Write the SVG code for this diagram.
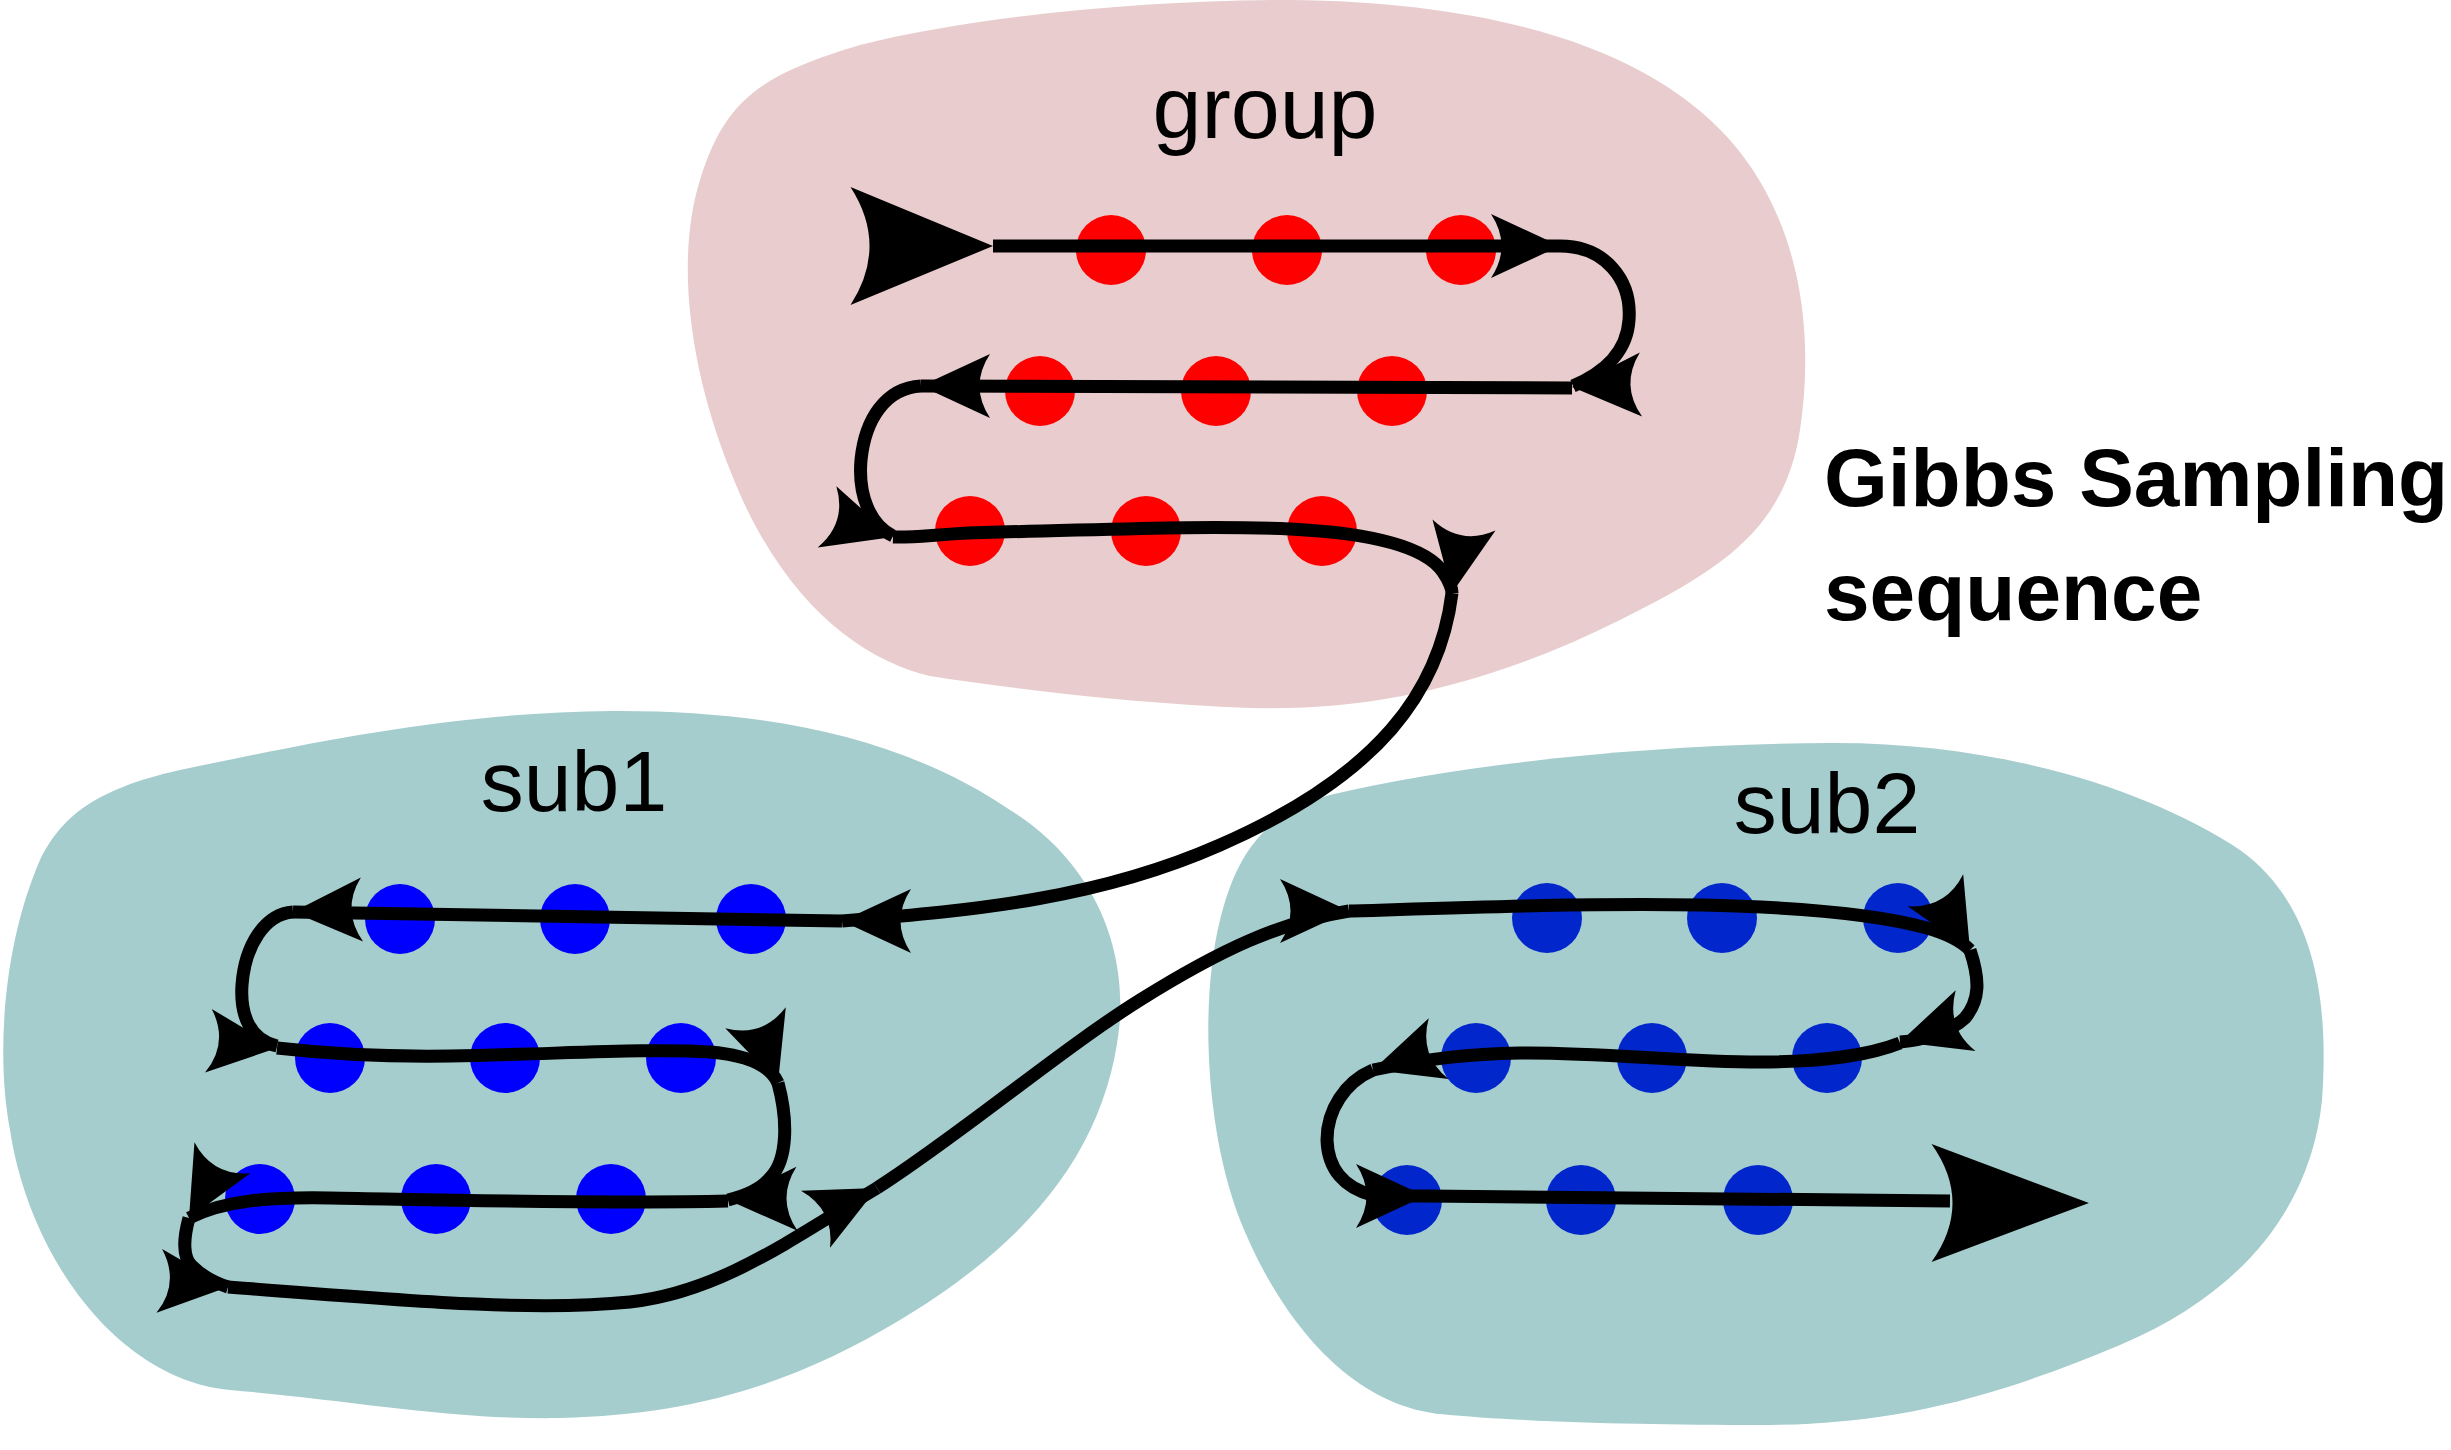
<svg xmlns="http://www.w3.org/2000/svg" width="2451" height="1450" viewBox="0 0 2451 1450">
<style>
.blobP{fill:#e9cdce}
.blobT{fill:#a6cdce}
.red{fill:#ff0000}
.blue{fill:#0000ff}
.blue2{fill:#0026cc}
.lbl{font-family:"Liberation Sans",Arial,sans-serif;font-size:88px;fill:#000;text-anchor:middle}
.title{font-family:"Liberation Sans",Arial,sans-serif;font-size:82px;font-weight:bold;fill:#000}
.ln{fill:none;stroke:#000;stroke-width:13}
.ah{fill:#000}
</style>
<defs>
<path id="ah" d="M0,0 L-69,-32 Q-48,0 -69,32 Z"/>
<path id="ahb" d="M0,0 L-150,-59 Q-110,0 -150,59 Z"/>
</defs>
<rect width="2451" height="1450" fill="#fff"/>
<g id="group">
<path class="blobP" d="M930,676 C860,660 780,600 730,470 C690,370 675,260 700,180 C725,100 760,75 860,45 C980,15 1150,0 1290,0 C1500,2 1650,50 1730,140 C1800,220 1815,330 1800,430 C1785,530 1720,570 1620,620 C1500,680 1380,712 1250,708 C1140,704 1020,690 930,676 Z"/>
<text class="lbl" x="1265" y="138">group</text>
<circle class="red" cx="1111" cy="250" r="35"/>
<circle class="red" cx="1287" cy="250" r="35"/>
<circle class="red" cx="1461" cy="250" r="35"/>
<circle class="red" cx="1040" cy="391" r="35"/>
<circle class="red" cx="1216" cy="391" r="35"/>
<circle class="red" cx="1392" cy="391" r="35"/>
<circle class="red" cx="970" cy="531" r="35"/>
<circle class="red" cx="1146" cy="531" r="35"/>
<circle class="red" cx="1322" cy="531" r="35"/>
</g>
<g id="sub1">
<path class="blobT" d="M612,711 C450,712 300,745 180,770 C90,790 60,820 40,860 C5,940 -5,1050 10,1130 C30,1260 120,1380 230,1390 C350,1400 450,1420 560,1418 C700,1415 800,1380 900,1320 C1050,1230 1110,1130 1120,1020 C1125,940 1090,860 1010,810 C900,735 760,710 612,711 Z"/>
<text class="lbl" x="574" y="811" style="font-size:86px">sub1</text>
<circle class="blue" cx="400" cy="919" r="35"/>
<circle class="blue" cx="575" cy="919" r="35"/>
<circle class="blue" cx="751" cy="919" r="35"/>
<circle class="blue" cx="330" cy="1058" r="35"/>
<circle class="blue" cx="505" cy="1058" r="35"/>
<circle class="blue" cx="681" cy="1058" r="35"/>
<circle class="blue" cx="260" cy="1199" r="35"/>
<circle class="blue" cx="436" cy="1199" r="35"/>
<circle class="blue" cx="611" cy="1199" r="35"/>
</g>
<g id="sub2">
<path class="blobT" d="M1830,743 C2000,742 2150,790 2240,850 C2310,900 2330,990 2322,1100 C2312,1200 2250,1290 2120,1345 C2000,1395 1900,1425 1760,1425 C1640,1425 1520,1422 1440,1414 C1350,1405 1280,1320 1240,1220 C1205,1130 1200,1000 1220,920 C1235,860 1260,815 1330,795 C1470,762 1660,744 1830,743 Z"/>
<text class="lbl" x="1827" y="833" style="font-size:86px">sub2</text>
<circle class="blue2" cx="1547" cy="918" r="35"/>
<circle class="blue2" cx="1722" cy="918" r="35"/>
<circle class="blue2" cx="1898" cy="918" r="35"/>
<circle class="blue2" cx="1476" cy="1058" r="35"/>
<circle class="blue2" cx="1652" cy="1058" r="35"/>
<circle class="blue2" cx="1827" cy="1058" r="35"/>
<circle class="blue2" cx="1407" cy="1200" r="35"/>
<circle class="blue2" cx="1581" cy="1200" r="35"/>
<circle class="blue2" cx="1758" cy="1200" r="35"/>
</g>
<g id="title">
<text class="title" x="1824" y="506">Gibbs Sampling</text>
<text class="title" x="1824" y="620">sequence</text>
</g>
<g id="connectors">
<path class="ln" d="M993,246 L1560,246"/>
<path class="ln" d="M1560,246 C1605,246 1632,280 1629,320 C1627,352 1605,372 1573,386"/>
<path class="ln" d="M1572,388 L921,386"/>
<path class="ln" d="M921,386 C885,388 865,420 861,460 C858,495 870,525 893,536"/>
<path class="ln" d="M893,537 C920,538 940,533 1000,532 C1100,530 1200,525 1290,529 C1370,533 1425,546 1443,572 C1450,582 1452,590 1452,593"/>
<path class="ln" d="M1452,593 C1440,690 1380,775 1220,845 C1100,898 980,910 842,921"/>
<path class="ln" d="M842,921 L293,912"/>
<path class="ln" d="M293,912 C265,914 245,945 242,985 C240,1015 250,1040 277,1046"/>
<path class="ln" d="M277,1048 C330,1054 380,1057 450,1056 C560,1054 650,1048 710,1052 C745,1055 770,1065 778,1083"/>
<path class="ln" d="M778,1083 C788,1120 788,1160 770,1178 C760,1190 745,1196 728,1200"/>
<path class="ln" d="M728,1201 C600,1204 450,1200 330,1198 C270,1197 225,1200 189,1218"/>
<path class="ln" d="M189,1218 C183,1240 183,1258 192,1266 C202,1276 215,1283 228,1287"/>
<path class="ln" d="M228,1287 C400,1300 530,1312 630,1302 C720,1292 790,1240 877,1188"/>
<path class="ln" d="M877,1188 C960,1135 1060,1050 1140,1000 C1220,950 1280,922 1349,911"/>
<path class="ln" d="M1349,911 C1450,908 1580,903 1700,905 C1800,907 1880,915 1927,928 C1948,934 1962,942 1970,950"/>
<path class="ln" d="M1970,950 C1980,980 1980,1000 1965,1018 C1950,1032 1925,1040 1900,1042"/>
<path class="ln" d="M1900,1043 C1870,1055 1820,1062 1760,1062 C1680,1062 1600,1052 1520,1053 C1470,1054 1430,1058 1373,1070"/>
<path class="ln" d="M1373,1070 C1345,1082 1327,1110 1327,1140 C1328,1170 1345,1188 1372,1195 C1390,1197 1410,1196 1425,1196"/>
<path class="ln" d="M1425,1196 L1950,1201"/>
<use class="ah" href="#ahb" transform="translate(993,246) scale(0.95,1)"/>
<use class="ah" href="#ah" transform="translate(1560,246)"/>
<use class="ah" href="#ah" transform="translate(1572,387) rotate(178)"/>
<use class="ah" href="#ah" transform="translate(921,386) rotate(180)"/>
<use class="ah" href="#ah" transform="translate(893,537) rotate(17)"/>
<use class="ah" href="#ah" transform="translate(1452,593) rotate(100)"/>
<use class="ah" href="#ah" transform="translate(842,921) rotate(180)"/>
<use class="ah" href="#ah" transform="translate(293,912) rotate(178)"/>
<use class="ah" href="#ah" transform="translate(277,1048) rotate(6)"/>
<use class="ah" href="#ah" transform="translate(778,1083) rotate(71)"/>
<use class="ah" href="#ah" transform="translate(728,1200) rotate(179)"/>
<use class="ah" href="#ah" transform="translate(189,1218) rotate(119)"/>
<use class="ah" href="#ah" transform="translate(228,1287) rotate(5)"/>
<use class="ah" href="#ah" transform="translate(877,1188) rotate(-27)"/>
<use class="ah" href="#ah" transform="translate(1349,911)"/>
<use class="ah" href="#ah" transform="translate(1970,950) rotate(60)"/>
<use class="ah" href="#ah" transform="translate(1900,1042) rotate(162)"/>
<use class="ah" href="#ah" transform="translate(1373,1070) rotate(162)"/>
<use class="ah" href="#ah" transform="translate(1425,1196)"/>
<use class="ah" href="#ahb" transform="translate(2089,1203) scale(1.05,1)"/>
</g>
</svg>
